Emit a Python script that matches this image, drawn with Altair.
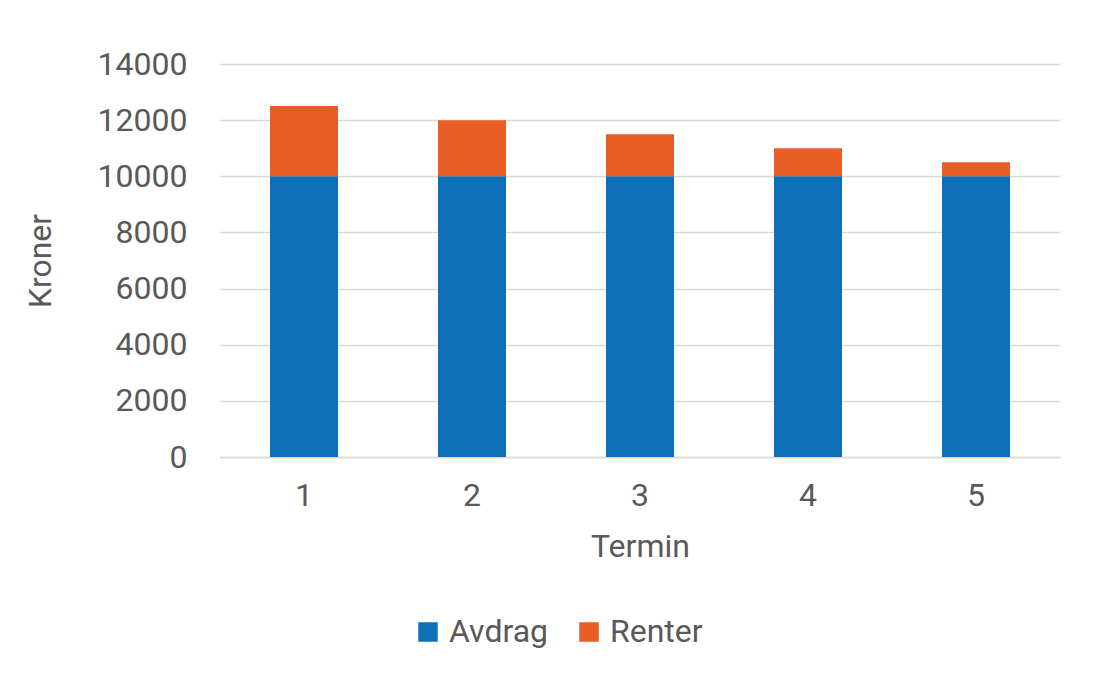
import pandas as pd
import altair as alt

termin = ["1", "2", "3", "4", "5"]
avdrag = [10000, 10000, 10000, 10000, 10000]
renter = [2500, 2000, 1500, 1000, 500]
series = ["Avdrag", "Renter"]
colors = ["#0E70B8", "#E85D24"]

rows = []
for t, a, r in zip(termin, avdrag, renter):
    rows.append({"termin": t, "serie": "Avdrag", "kroner": a, "rank": 0})
    rows.append({"termin": t, "serie": "Renter", "kroner": r, "rank": 1})
df = pd.DataFrame(rows)

TEXT = "#595959"
FS = 32

chart = (
    alt.Chart(df)
    .mark_bar(size=68)
    .encode(
        x=alt.X(
            "termin:N",
            title="Termin",
            axis=alt.Axis(
                labelAngle=0, labelFontSize=FS, titleFontSize=FS, labelPadding=23,
                titlePadding=20, ticks=False, domainColor="#D9D9D9", domainWidth=1.5,
                labelColor=TEXT, titleColor=TEXT, titleFontWeight="normal",
            ),
            scale=alt.Scale(paddingInner=0.0, paddingOuter=0.0),
        ),
        y=alt.Y(
            "kroner:Q",
            title="Kroner",
            stack="zero",
            scale=alt.Scale(domain=[0, 14000]),
            axis=alt.Axis(
                values=list(range(0, 14001, 2000)), format="d", labelFontSize=FS,
                titleFontSize=FS, labelPadding=33, titlePadding=40, ticks=False, domain=False,
                gridColor="#D9D9D9", gridWidth=1.5, labelColor=TEXT, titleColor=TEXT,
                titleFontWeight="normal",
            ),
        ),
        color=alt.Color(
            "serie:N",
            scale=alt.Scale(domain=series, range=colors),
            legend=alt.Legend(
                title=None, orient="none", direction="horizontal", legendX=192, legendY=552,
                symbolType="square", symbolSize=380, symbolStrokeWidth=0, labelFontSize=FS,
                labelColor=TEXT, columnPadding=24, labelOffset=5,
            ),
        ),
        order=alt.Order("rank:Q", sort="ascending"),
    )
    .properties(
        width=840, height=393,
        autosize=alt.AutoSizeParams(type="none"),
        padding={"left": 212, "top": 56, "right": 44, "bottom": 210},
    )
    .configure(font="Roboto", background="white")
    .configure_view(stroke=None)
)

chart.save("out.html", embed_options={"renderer": "svg", "actions": False})
